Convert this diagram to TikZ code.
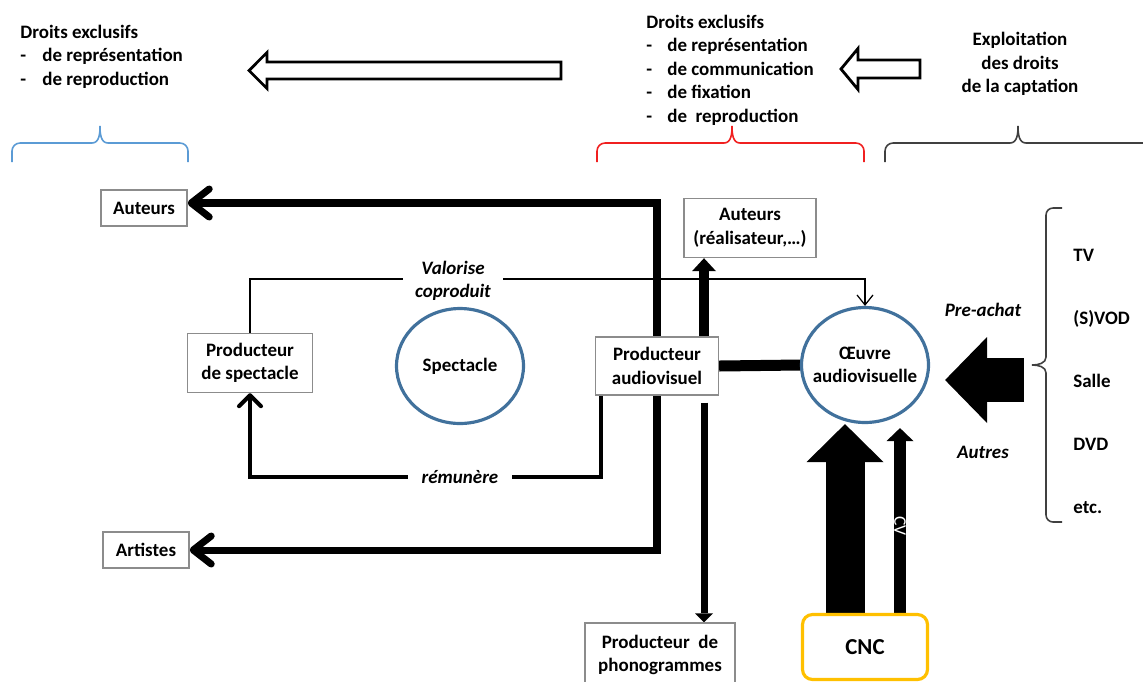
\documentclass[tikz,border=0pt]{standalone}
\usepackage{fontspec}
\setmainfont{Carlito}
\usetikzlibrary{arrows.meta,shapes.geometric,backgrounds}
\definecolor{boxgray}{HTML}{8C8C8C}
\definecolor{ovalblue}{HTML}{41719C}
\definecolor{bracebl}{HTML}{5B9BD5}
\definecolor{bracerd}{HTML}{F02020}
\definecolor{bracegr}{HTML}{404040}
\definecolor{cncgold}{HTML}{FFC000}
\newcommand{\basefont}{\fontsize{10.8}{13.4}\selectfont\bfseries}
\tikzstyle{box} = [draw=boxgray, line width=0.8pt, fill=white, align=center, inner sep=0pt]
\tikzstyle{bubble} = [ellipse, draw=ovalblue, line width=1.8pt, fill=white, align=center, minimum width=2.54cm, minimum height=2.3cm, inner sep=0pt]
\tikzstyle{lbl} = [inner sep=0pt, align=center]
\tikzstyle{itlbl} = [lbl, font=\basefont\itshape]
\tikzstyle{hollow} = [draw=black, line width=1.6pt, fill=white, line join=miter]
\tikzstyle{barbs} = [line width=4pt, {Straight Barb[length=0.36cm,width=0.56cm,round]}-{Straight Barb[length=0.36cm,width=0.56cm,round]}]
\tikzstyle{thinline} = [line width=0.7pt, -{Straight Barb[length=0.2cm,width=0.32cm]}]
\tikzstyle{midline} = [line width=2.3pt, -{Straight Barb[length=0.22cm,width=0.44cm,round]}]
\tikzstyle{link} = [line width=0.22cm]
\tikzstyle{upblock} = [line width=0.2cm, -{Triangle[width=0.48cm,length=0.26cm,line width=0pt]}]
\tikzstyle{downblock} = [line width=0.14cm, -{Triangle[width=0.36cm,length=0.18cm,line width=0pt]}]
\tikzstyle{cvblock} = [line width=0.24cm, -{Triangle[width=0.54cm,length=0.26cm,line width=0pt]}]
\tikzstyle{bigblock} = [line width=0.78cm, -{Triangle[width=1.54cm,length=0.76cm,line width=0pt]}]
\tikzstyle{sideblock} = [line width=0.88cm, -{Triangle[width=1.72cm,length=0.84cm,line width=0pt]}]
\tikzstyle{cvlbl} = [inner sep=0pt, text=white, rotate=-90, font=\fontsize{10}{12}\selectfont]

\begin{document}
\begin{tikzpicture}[x=0.02cm, y=-0.02cm, every node/.style={font=\basefont}]
	\useasboundingbox (0,0) rectangle (1143,681);

	\node[lbl, anchor=base west] (dl0) at (20,38) {Droits exclusifs};
	\foreach \t [count=\i] in {de représentation, de reproduction}
		\node[lbl, anchor=base west] (dl\i) at (20,38+23.5*\i) {\makebox[0.44cm][l]{-}\t};
	\node[lbl, anchor=base west] (dm0) at (646,28) {Droits exclusifs};
	\foreach \t [count=\i] in {de représentation, de communication, de fixation, de\ \ reproduction}
		\node[lbl, anchor=base west] (dm\i) at (646,28+23.5*\i) {\makebox[0.42cm][l]{-}\t};
	\node[lbl] (expl) at (1020,64) {Exploitation\\des droits\\de la captation};

	\foreach \tipx/\backx/\tailx/\yc/\hh/\sh in {249/267/561/70.5/18/8.5, 841/858/920/69/20.5/9}
		\draw[hollow] (\tailx,\yc-\sh) -- (\backx,\yc-\sh) -- (\backx,\yc-\hh) -- (\tipx,\yc)
			-- (\backx,\yc+\hh) -- (\backx,\yc+\sh) -- (\tailx,\yc+\sh) -- cycle;

	\foreach \l/\m/\r/\c in {12/100/188/bracebl, 597/732/864/bracerd, 885/1018/1151/bracegr}
		\draw[\c, line width=0.9pt] (\l,162) -- (\l,151) to[out=90,in=180] (\l+8,143) -- (\m-8,143)
			to[out=0,in=-90] (\m,126) to[out=-90,in=180] (\m+8,143) -- (\r-8,143)
			to[out=0,in=90] (\r,151) -- (\r,162);
	\draw[bracegr, line width=0.9pt] (1062,208) -- (1053,208) to[out=180,in=90] (1046,215) -- (1046,357)
		to[out=-90,in=0] (1032,365) to[out=0,in=90] (1046,373) -- (1046,515)
		to[out=-90,in=180] (1053,522) -- (1062,522);

	\node[box, minimum width=1.72cm, minimum height=0.72cm] (auteurs) at (144,208) {Auteurs};
	\node[box, minimum width=1.72cm, minimum height=0.72cm] (artistes) at (146,550) {Artistes};
	\node[box, minimum width=2.5cm, minimum height=1.18cm] (prodspec) at (250,363) {Producteur\\de spectacle};
	\node[bubble] (spectacle) at (460,366) {Spectacle};
	\node[box, minimum width=2.46cm, minimum height=1.16cm] (prodav) at (657,366) {Producteur\\audiovisuel};
	\node[box, minimum width=2.64cm, minimum height=1.18cm] (auteursreal) at (750,228) {Auteurs\\(réalisateur,…)};
	\node[bubble, inner xsep=-0.2cm] (oeuvre) at (865,365) {Œuvre\\audiovisuelle};
	\node[box, minimum width=3cm, minimum height=1.28cm] (phono) at (660,655) {Producteur\ \ de\\phonogrammes};
	\node[box, draw=cncgold, line width=1.8pt, rounded corners=0.2cm, minimum width=2.5cm,
		minimum height=1.3cm, font=\fontsize{13}{15}\selectfont\bfseries] (cnc) at (865,647) {CNC};

	\coordinate (vtop) at (657,203);
	\coordinate (vbot) at (657,550);
	\coordinate (val) at (460,279);
	\coordinate (rem) at (460,477);
	\coordinate (col) at (704,0);
	\coordinate (bigx) at (845,0);
	\coordinate (cvx) at (900,0);
	\coordinate (src) at (1024,380);

	\begin{scope}[on background layer]
		\draw[barbs] (vtop -| auteurs.east) -- (vtop) -- (vbot) -- (artistes.east);
		\draw[thinline] (prodspec.north) |- (val) -| (oeuvre.north);
		\draw[midline] ([xshift=0.12cm]prodav.south west) |- (rem) -| (prodspec.south);
		\draw[upblock] (prodav.north -| col) -- (auteursreal.south -| col);
		\draw[downblock, shorten <=0.14cm] (prodav.south -| col) -- (phono.north -| col);
		\draw[link] (prodav.east) -- (oeuvre.west);
		\draw[bigblock] (cnc.north -| bigx) -- (oeuvre.south -| bigx);
		\draw[cvblock, shorten >=0.08cm] (cnc.north -| cvx) -- (oeuvre.south -| cvx);
		\draw[sideblock, shorten >=0.3cm] (src) -- (oeuvre.east |- src);
	\end{scope}

	\node[itlbl, fill=white, minimum width=2cm] (valorise) at (453,281) {Valorise\\coproduit};
	\node[itlbl, fill=white, minimum width=2.08cm, minimum height=0.5cm] (remunere) at (460,477) {rémunère};
	\node[itlbl] (preachat) at (983,310) {Pre-achat};
	\node[itlbl] (autres) at (983,452) {Autres};
	\node[cvlbl] (cv) at (900,526) {CV};

	\foreach \t [count=\i from 0] in {TV,(S)VOD,Salle,DVD,etc.}
		\node[lbl, anchor=base west] (media\i) at (1073,261+63*\i) {\t};
\end{tikzpicture}
\end{document}
